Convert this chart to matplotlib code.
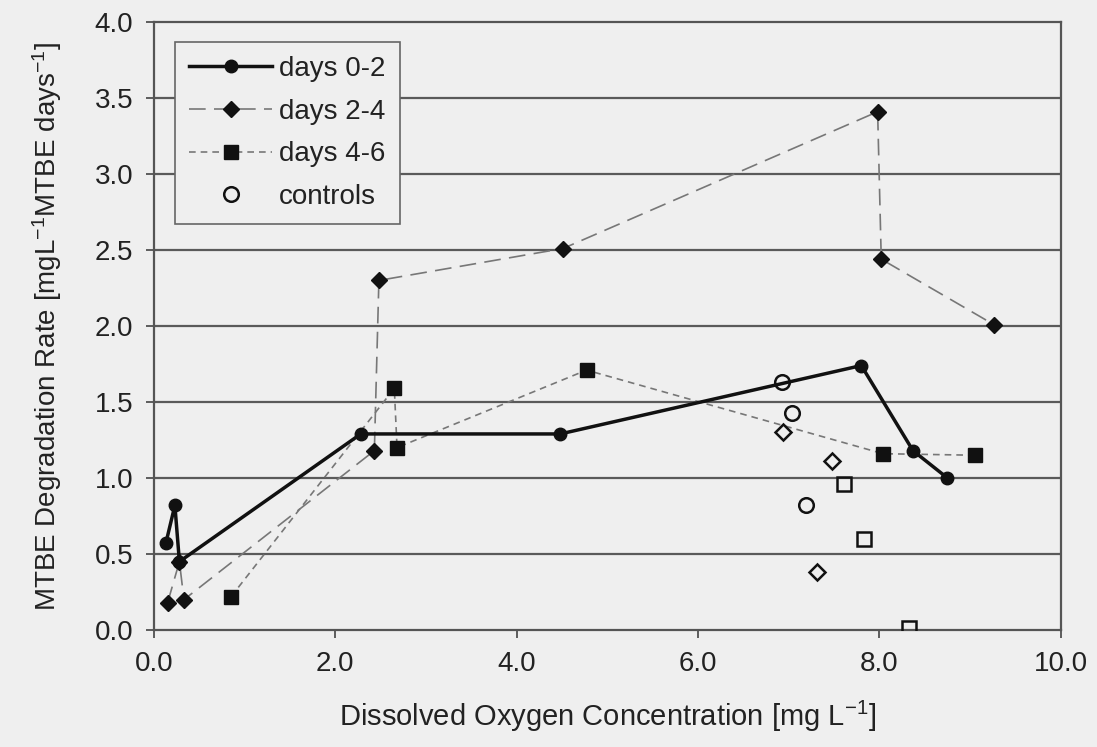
import matplotlib
matplotlib.use("Agg")
import matplotlib.pyplot as plt

plt.rcParams['font.family'] = ['Liberation Sans', 'DejaVu Sans']
plt.rcParams['mathtext.fontset'] = 'custom'
plt.rcParams['mathtext.rm'] = 'Liberation Sans'
plt.rcParams['mathtext.it'] = 'Liberation Sans'
plt.rcParams['mathtext.bf'] = 'Liberation Sans'

# Data
d02_x = [0.13, 0.23, 0.28, 2.28, 4.48, 7.80, 8.37, 8.75]
d02_y = [0.57, 0.82, 0.45, 1.29, 1.29, 1.74, 1.18, 1.00]

d24_x = [0.15, 0.28, 0.33, 2.43, 2.48, 4.51, 7.98, 8.02, 9.26]
d24_y = [0.18, 0.45, 0.20, 1.18, 2.30, 2.51, 3.41, 2.44, 2.01]

d46_x = [0.85, 2.65, 2.68, 4.77, 8.04, 9.05]
d46_y = [0.22, 1.59, 1.20, 1.71, 1.16, 1.15]

ctrl_circ_x = [6.92, 7.04, 7.19]
ctrl_circ_y = [1.63, 1.43, 0.82]
ctrl_diam_x = [6.94, 7.48, 7.31]
ctrl_diam_y = [1.30, 1.11, 0.38]
ctrl_sq_x = [7.61, 7.83, 8.33]
ctrl_sq_y = [0.96, 0.60, 0.01]

x_ticks = [0, 2, 4, 6, 8, 10]
y_ticks = [0.0, 0.5, 1.0, 1.5, 2.0, 2.5, 3.0, 3.5, 4.0]

bg = '#efefef'
fig = plt.figure(figsize=(10.97, 7.47), dpi=100, facecolor=bg)
ax = fig.add_axes([0.1404, 0.1566, 0.8266, 0.8139])
ax.set_facecolor(bg)

for yv in y_ticks[1:-1]:
    ax.axhline(yv, color='#5a5a5a', lw=1.6, zorder=1)

ax.plot(d24_x, d24_y, color='#777777', lw=1.2, linestyle=(0, (10, 5)),
        marker='D', markersize=8, markerfacecolor='#111111', markeredgecolor='#111111',
        label='days 2-4', zorder=3)
ax.plot(d46_x, d46_y, color='#777777', lw=1.2, linestyle=(0, (4, 3)),
        marker='s', markersize=9.5, markerfacecolor='#111111', markeredgecolor='#111111',
        label='days 4-6', zorder=3)
ax.plot(d02_x, d02_y, color='#111111', lw=2.5, linestyle='-',
        marker='o', markersize=9, markerfacecolor='#111111', markeredgecolor='#111111',
        label='days 0-2', zorder=4)
ax.plot(ctrl_circ_x, ctrl_circ_y, linestyle='none', marker='o', markersize=10.5,
        markerfacecolor='none', markeredgecolor='#111111', markeredgewidth=1.8,
        label='controls', zorder=5)
ax.plot(ctrl_diam_x, ctrl_diam_y, linestyle='none', marker='D', markersize=8.5,
        markerfacecolor='none', markeredgecolor='#111111', markeredgewidth=1.8, zorder=5)
ax.plot(ctrl_sq_x, ctrl_sq_y, linestyle='none', marker='s', markersize=10.5,
        markerfacecolor='none', markeredgecolor='#111111', markeredgewidth=1.8, zorder=5)

ax.set_xlim(0, 10)
ax.set_ylim(0, 4)
ax.set_xticks(x_ticks)
ax.set_xticklabels([f'{v:.1f}' for v in x_ticks])
ax.set_yticks(y_ticks)
ax.set_yticklabels([f'{v:.1f}' for v in y_ticks])
ax.tick_params(direction='out', length=6, width=1.2, color='#444444',
               labelsize=20, labelcolor='#222222', pad=9)
for s in ax.spines.values():
    s.set_color('#555555')
    s.set_linewidth(1.6)

ax.set_xlabel(r'Dissolved Oxygen Concentration [mg L$^{-1}$]', fontsize=21,
              color='#222222', labelpad=16)
ax.set_ylabel(r'MTBE Degradation Rate [mgL$^{-1}$MTBE days$^{-1}$]', fontsize=20,
              color='#222222', labelpad=22)

handles, labels = ax.get_legend_handles_labels()
order = [labels.index(l) for l in ['days 0-2', 'days 2-4', 'days 4-6', 'controls']]
leg = ax.legend([handles[i] for i in order], [labels[i] for i in order],
                loc='upper left', bbox_to_anchor=(0.008, 0.99), fontsize=20,
                frameon=True, fancybox=False, edgecolor='#666666', facecolor=bg,
                framealpha=1, handlelength=3.0, borderpad=0.5, labelspacing=0.6,
                handletextpad=0.25)
leg.get_frame().set_linewidth(1.2)
for t in leg.get_texts():
    t.set_color('#222222')

fig.savefig('out.png', dpi=100, facecolor=bg)
